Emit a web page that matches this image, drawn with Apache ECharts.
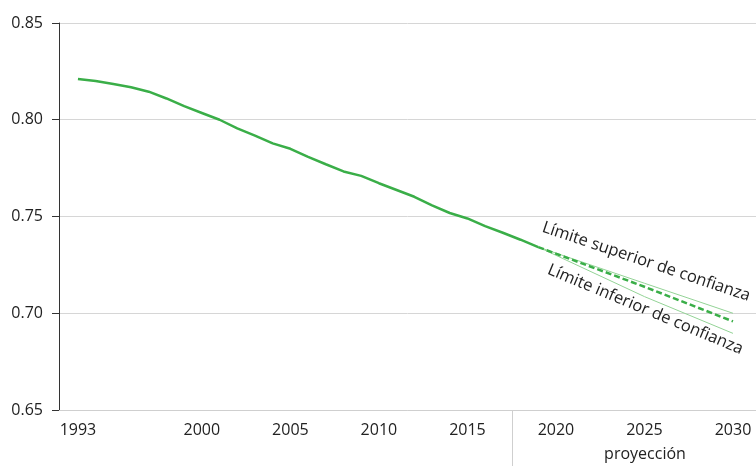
<!DOCTYPE html>
<html>
<head>
<meta charset="utf-8">
<script src="https://cdn.jsdelivr.net/npm/echarts@6/dist/echarts.min.js"></script>
<style>
html,body{margin:0;padding:0;background:#fff;}
#chart{width:756px;height:466px;}
</style>
</head>
<body>
<div id="chart"></div>
<script>
// datos historicos
let years = [1993,1994,1995,1996,1997,1998,1999,2000,2001,2002,2003,2004,2005,2006,2007,2008,2009,2010,2011,2012,2013,2014,2015,2016,2017,2018,2019];
let values = [0.821,0.820,0.8185,0.8168,0.8145,0.811,0.807,0.8035,0.800,0.7955,0.7918,0.7878,0.785,0.7808,0.777,0.7733,0.771,0.7672,0.7637,0.7602,0.7558,0.7518,0.749,0.745,0.7416,0.738,0.7342];
// proyeccion
let projYears = [2019,2025,2030];
let projCentral = [0.7342,0.7137,0.6958];
let projUpper = [0.7342,0.7155,0.700];
let projLower = [0.7342,0.7086,0.6896];
let xLabels = [1993,2000,2005,2010,2015,2020,2025,2030];
let yTicks = [0.65,0.70,0.75,0.80,0.85];

function pairs(xs, ys){
    let out = [];
    for(let i = 0; i < xs.length; i++){
        out.push([xs[i], ys[i]]);
    }
    return out;
}

let green = '#3aae48';
let lightGreen = '#93d396';
let font = 'Open Sans';

let myChart = echarts.init(document.getElementById('chart'));
let option = {
    animation: false,
    grid: {left: 59, right: 0, top: 23, bottom: 56},
    xAxis: {
        type: 'value',
        min: 1991.93,
        max: 2031.3,
        axisLine: {show: true, onZero: false, lineStyle: {color: '#cfcfcf'}},
        axisTick: {show: false},
        splitLine: {show: false},
        axisLabel: {
            customValues: xLabels,
            margin: 12,
            color: '#222',
            fontSize: 16,
            fontFamily: font,
            formatter: function(v){ return String(v); }
        }
    },
    yAxis: {
        type: 'value',
        min: yTicks[0],
        max: yTicks[yTicks.length-1],
        interval: 0.05,
        axisLine: {show: true, lineStyle: {color: '#333'}},
        axisTick: {show: true, length: 7, lineStyle: {color: '#333'}},
        splitLine: {show: true, lineStyle: {color: '#d6d6d6'}},
        axisLabel: {
            margin: 16,
            color: '#222',
            fontSize: 16,
            fontFamily: font,
            formatter: function(v){ return v.toFixed(2); }
        }
    },
    series: [
        {
            type: 'line',
            data: pairs(years, values),
            showSymbol: false,
            lineStyle: {color: green, width: 2.5}
        },
        {
            type: 'line',
            data: pairs(projYears, projUpper),
            showSymbol: false,
            lineStyle: {color: lightGreen, width: 1}
        },
        {
            type: 'line',
            data: pairs(projYears, projLower),
            showSymbol: false,
            lineStyle: {color: lightGreen, width: 1}
        },
        {
            type: 'line',
            data: pairs(projYears, projCentral),
            showSymbol: false,
            lineStyle: {color: green, width: 2.5, type: [6, 3]}
        }
    ]
};
myChart.setOption(option);

// separador de proyeccion y anotaciones
let sepX = myChart.convertToPixel({gridIndex: 0}, [2017.5, 0.65]);
myChart.setOption({
    graphic: [
        {
            type: 'line',
            shape: {x1: Math.round(sepX[0]) + 0.5, y1: sepX[1], x2: Math.round(sepX[0]) + 0.5, y2: 466},
            style: {stroke: '#cfcfcf', lineWidth: 1}
        },
        {
            type: 'text',
            x: 645, y: 454,
            style: {text: 'proyección', fill: '#222', font: '16px "Open Sans"', align: 'center', verticalAlign: 'middle'}
        },
        {
            type: 'text',
            x: 540, y: 235,
            rotation: -18.6 * Math.PI / 180,
            style: {text: 'Límite superior de confianza', fill: '#222', font: '16.5px "Open Sans"', align: 'left', verticalAlign: 'bottom'}
        },
        {
            type: 'text',
            x: 545, y: 277,
            rotation: -22.6 * Math.PI / 180,
            style: {text: 'Límite inferior de confianza', fill: '#222', font: '16.5px "Open Sans"', align: 'left', verticalAlign: 'bottom'}
        }
    ]
});
</script>
</body>
</html>
